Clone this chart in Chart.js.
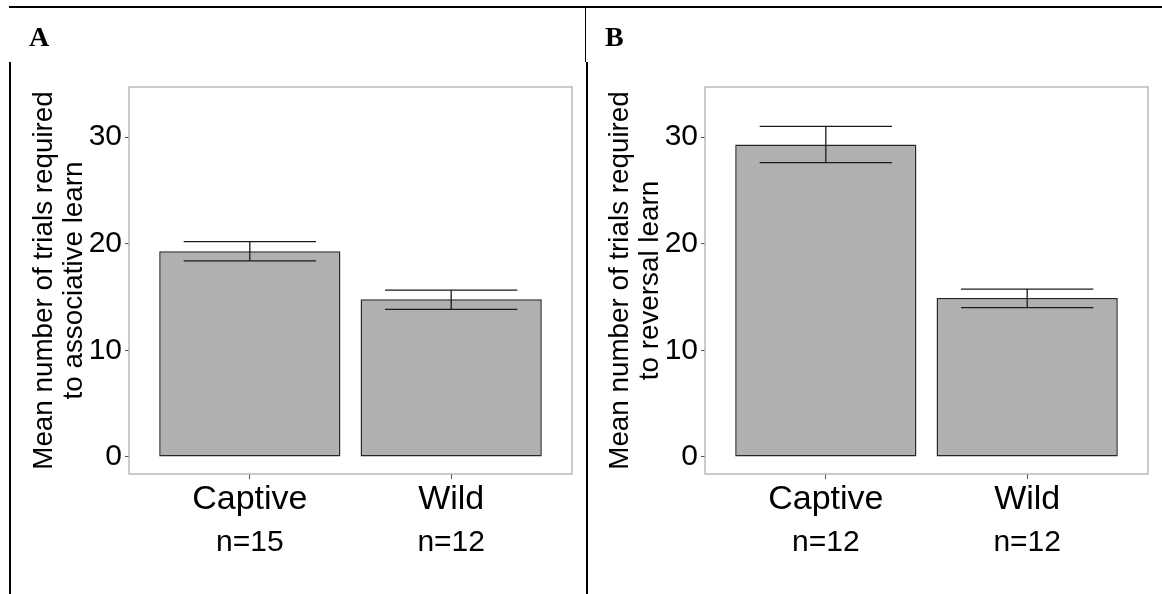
<!DOCTYPE html>
<html>
<head>
<meta charset="utf-8">
<script src="https://cdn.jsdelivr.net/npm/chart.js@4.4.1/dist/chart.umd.min.js"></script>
<style>
html,body{margin:0;padding:0;background:#fff;}
body{width:1162px;height:594px;position:relative;overflow:hidden;font-family:"Liberation Sans",Arial,sans-serif;}
.wrap{position:absolute;top:0;width:576px;height:594px;}
.line{position:absolute;background:#000;z-index:5;}
.letter{position:absolute;font-family:"Liberation Serif","Times New Roman",serif;font-weight:bold;font-size:28px;line-height:1;color:#000;z-index:5;}
</style>
</head>
<body>
<div class="wrap" style="left:0"><canvas id="chartA" width="576" height="594"></canvas></div>
<div class="wrap" style="left:576px"><canvas id="chartB" width="576" height="594"></canvas></div>
<div class="line" style="left:9px;top:6px;width:1153px;height:2px"></div>
<div class="line" style="left:9px;top:62px;width:2px;height:532px"></div>
<div class="line" style="left:585px;top:7px;width:1px;height:55px"></div>
<div class="line" style="left:586px;top:62px;width:2px;height:532px"></div>
<div class="letter" style="left:29px;top:23px">A</div>
<div class="letter" style="left:605px;top:23px">B</div>
<script>
const categories = ['Captive', 'Wild'];
const nLabelsA = ['n=15', 'n=12'];
const nLabelsB = ['n=12', 'n=12'];
const meanA = [19.3, 14.8];
const lowA = [18.4, 13.85];
const highA = [20.2, 15.65];
const meanB = [29.3, 14.9];
const lowB = [27.6, 14.0];
const highB = [31.0, 15.75];
const yTicks = [0, 10, 20, 30];
const titleA = ['Mean number of trials required', 'to associative learn'];
const titleB = ['Mean number of trials required', 'to reversal learn'];

Chart.defaults.font.family = '"Liberation Sans", Arial, sans-serif';

const errorBarPlugin = {
  id: 'errorBars',
  afterDatasetsDraw(chart, args, opts) {
    const ctx = chart.ctx;
    const meta = chart.getDatasetMeta(0);
    const y = chart.scales.y;
    ctx.save();
    ctx.strokeStyle = opts.color;
    ctx.lineWidth = opts.width;
    meta.data.forEach((bar, i) => {
      const lo = y.getPixelForValue(opts.low[i]);
      const hi = y.getPixelForValue(opts.high[i]);
      const half = bar.width * opts.capRatio / 2;
      ctx.beginPath();
      ctx.moveTo(bar.x - half, hi); ctx.lineTo(bar.x + half, hi);
      ctx.moveTo(bar.x, hi); ctx.lineTo(bar.x, lo);
      ctx.moveTo(bar.x - half, lo); ctx.lineTo(bar.x + half, lo);
      ctx.stroke();
    });
    ctx.restore();
  }
};

const panelBorder = {
  id: 'panelBorder',
  afterDraw(chart, args, opts) {
    const a = chart.chartArea;
    const ctx = chart.ctx;
    ctx.save();
    ctx.strokeStyle = opts.color;
    ctx.lineWidth = opts.width;
    ctx.strokeRect(a.left, a.top, a.right - a.left, a.bottom - a.top);
    ctx.restore();
  }
};

function makeChart(id, means, lows, highs, nLabels, title) {
  return new Chart(document.getElementById(id), {
    type: 'bar',
    data: {
      datasets: [{
        data: means.map((v, i) => ({ x: i + 1, y: v })),
        backgroundColor: '#b0b0b0',
        borderColor: '#262626',
        borderWidth: 1.5,
        borderSkipped: false,
        categoryPercentage: 1,
        barPercentage: 0.9
      }]
    },
    options: {
      responsive: false,
      animation: false,
      events: [],
      layout: { padding: { top: 87, right: 4, left: 0, bottom: 0 } },
      plugins: {
        legend: { display: false },
        tooltip: { enabled: false },
        errorBars: { low: lows, high: highs, color: '#1a1a1a', width: 1.3, capRatio: 0.73 },
        panelBorder: { color: '#b0b0b0', width: 1.3 }
      },
      scales: {
        x: {
          type: 'linear', position: 'bottom', min: 0.4, max: 2.6, weight: 0,
          offset: false,
          afterBuildTicks: s => { s.ticks = categories.map((c, i) => ({ value: i + 1 })); },
          afterFit: s => { s.height = 46; },
          ticks: { callback: v => categories[v - 1], font: { size: 34 }, color: '#000', padding: 0, maxRotation: 0, autoSkip: false },
          grid: { drawOnChartArea: false, drawTicks: true, tickLength: 5, color: '#555', offset: false },
          border: { display: false }
        },
        x2: {
          type: 'linear', position: 'bottom', min: 0.4, max: 2.6, weight: 1,
          offset: false,
          afterBuildTicks: s => { s.ticks = nLabels.map((c, i) => ({ value: i + 1 })); },
          afterFit: s => { s.height = 74; },
          ticks: { callback: v => nLabels[v - 1], font: { size: 30 }, color: '#000', padding: 5, maxRotation: 0, autoSkip: false },
          grid: { display: false, drawTicks: false, offset: false },
          border: { display: false }
        },
        y: {
          min: -1.6, max: 34.7,
          afterBuildTicks: s => { s.ticks = yTicks.map(v => ({ value: v })); },
          afterFit: s => { s.width = 129; },
          ticks: { font: { size: 30 }, color: '#000', padding: 3 },
          grid: { drawOnChartArea: false, drawTicks: true, tickLength: 4, color: '#555' },
          border: { display: false },
          title: { display: true, text: title, font: { size: 27.8, lineHeight: 1.08 }, color: '#000', padding: { top: 29, bottom: 0 } }
        }
      }
    },
    plugins: [errorBarPlugin, panelBorder]
  });
}

makeChart('chartA', meanA, lowA, highA, nLabelsA, titleA);
makeChart('chartB', meanB, lowB, highB, nLabelsB, titleB);
</script>
</body>
</html>
